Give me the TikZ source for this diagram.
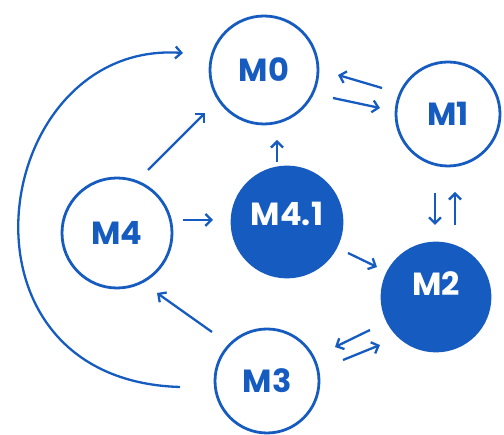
\documentclass[tikz,border=0pt]{standalone}
\usepackage{fontspec}
\setmainfont{Poppins}
\usetikzlibrary{arrows.meta}
\definecolor{mblue}{RGB}{22,92,192}
\tikzset{
  mnode/.style={circle,draw=mblue,line width=2.8pt,text=mblue,font=\fontsize{32}{34}\selectfont\bfseries,inner sep=0pt},
  mfill/.style={mnode,fill=mblue,text=white},
  conn/.style={draw=mblue,line width=2.3pt,-{Straight Barb[length=6pt,width=12pt,line width=2.3pt]}}
}
\begin{document}
\begin{tikzpicture}[x=1pt,y=-1pt]
\useasboundingbox (0,0) rectangle (504,435);
\node[mnode,minimum size=108pt] (m0) at (264,70) {M0};
\node[mnode,minimum size=104pt] (m1) at (448,114) {M1};
\node[mnode,minimum size=110pt] (m4) at (117,233) {M4};
\node[mfill,minimum size=110pt] (m41) at (287,222) {};
\node[text=white,font=\fontsize{32}{34}\selectfont\bfseries] (m41t) at (287,214) {M4.1};
\node[mfill,minimum size=108pt] (m2) at (436,297) {};
\node[text=white,font=\fontsize{32}{34}\selectfont\bfseries] (m2t) at (436,284) {M2};
\node[mnode,minimum size=104pt] (m3) at (267,381) {M3};
\coordinate (c1a) at (180,387);
\coordinate (c1b) at (183,53);
\draw[conn] (c1a) .. controls (-60,380) and (-10,40) .. (c1b);
\coordinate (a1) at (148,170); \coordinate (a2) at (205,113);
\draw[conn] (a1) -- (a2);
\coordinate (b1) at (277,162); \coordinate (b2) at (277,140);
\draw[conn] (b1) -- (b2);
\coordinate (d1) at (183,220); \coordinate (d2) at (213,220);
\draw[conn] (d1) -- (d2);
\coordinate (e1) at (348,253); \coordinate (e2) at (377,267);
\draw[conn] (e1) -- (e2);
\coordinate (f1) at (212,332); \coordinate (f2) at (157,293);
\draw[conn] (f1) -- (f2);
\coordinate (g1) at (382,88); \coordinate (g2) at (338,75);
\draw[conn] (g1) -- (g2);
\coordinate (h1) at (333,98); \coordinate (h2) at (380,108);
\draw[conn] (h1) -- (h2);
\coordinate (i1) at (435,193); \coordinate (i2) at (435,225);
\draw[conn] (i1) -- (i2);
\coordinate (j1) at (455,225); \coordinate (j2) at (455,192);
\draw[conn] (j1) -- (j2);
\coordinate (k1) at (370,330); \coordinate (k2) at (335,347);
\draw[conn] (k1) -- (k2);
\coordinate (l1) at (343,360); \coordinate (l2) at (380,345);
\draw[conn] (l1) -- (l2);
\end{tikzpicture}
\end{document}
